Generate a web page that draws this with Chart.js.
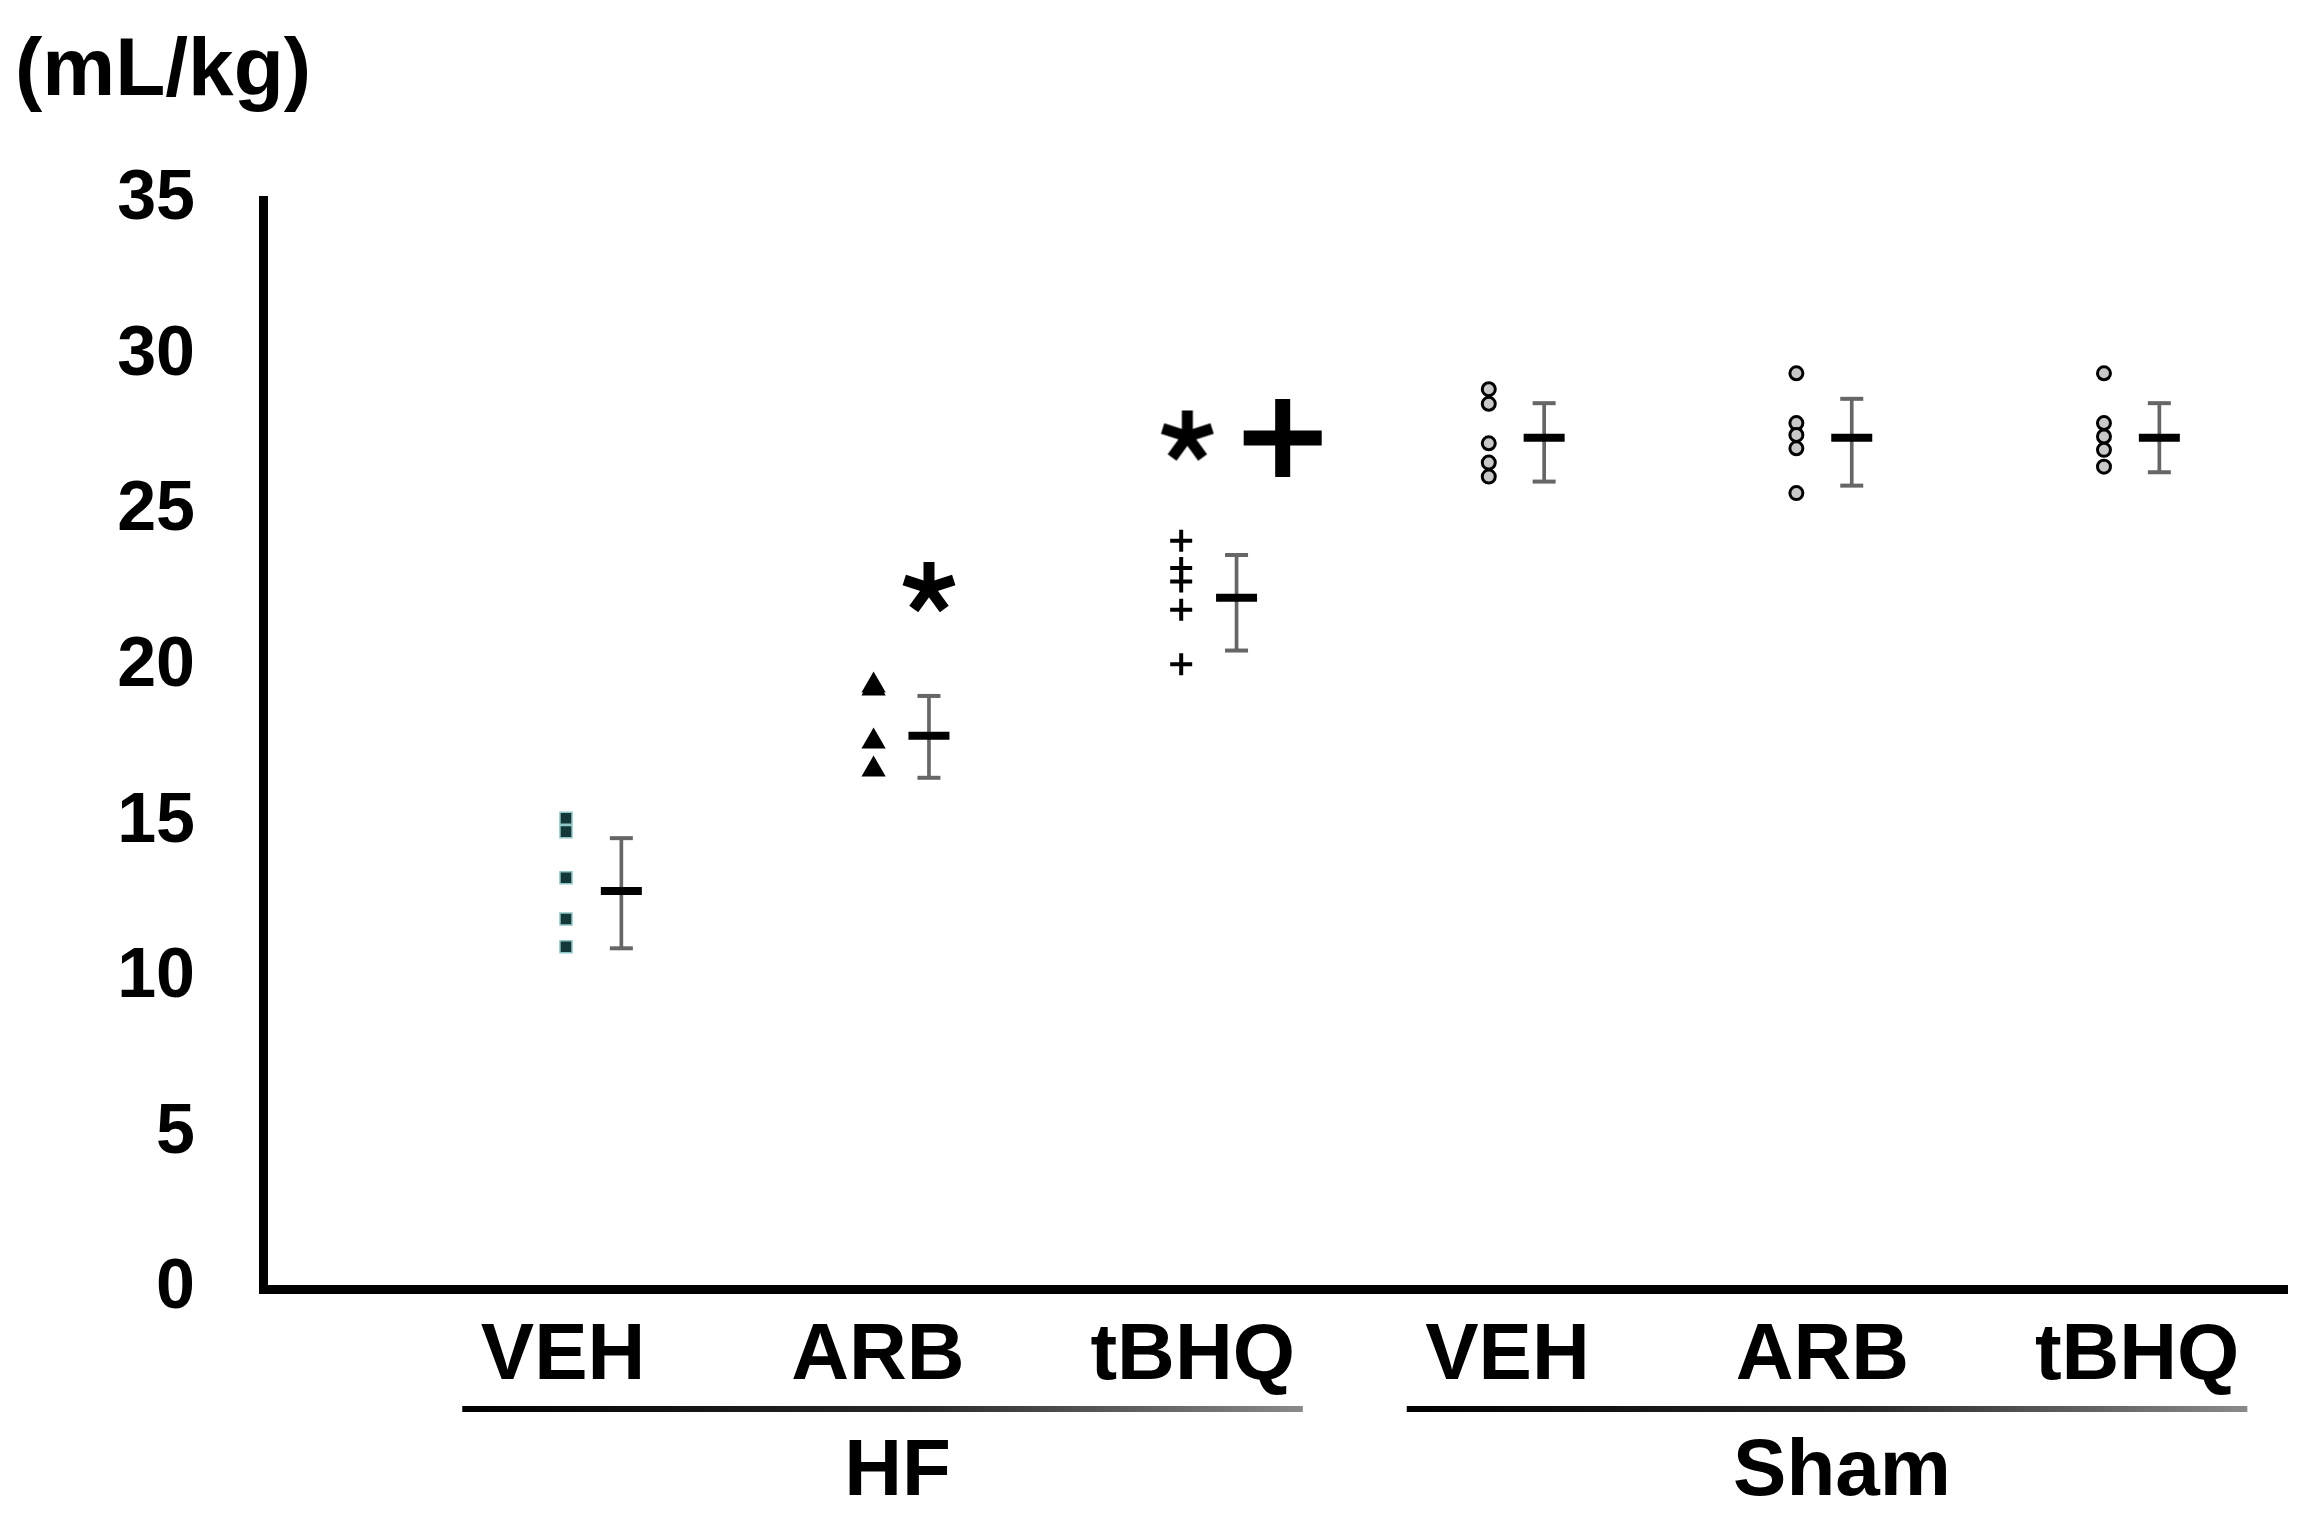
<!DOCTYPE html>
<html>
<head>
<meta charset="utf-8">
<script src="https://cdn.jsdelivr.net/npm/chart.js@4.4.1/dist/chart.umd.min.js"></script>
<style>
  html, body { margin: 0; padding: 0; background: #fff; }
  #c { display: block; }
</style>
</head>
<body>
<canvas id="c" width="2315" height="1520"></canvas>
<script>
// ---------------- DATA ----------------
const categories = ['VEH', 'ARB', 'tBHQ', 'VEH', 'ARB', 'tBHQ'];
const groupNames = ['HF', 'Sham'];
const groupFrom = [0, 3];
const groupTo = [2, 5];
const unitLabel = '(mL/kg)';
const yTicksMax = 35;
const yTickStep = 5;

// individual animals
const hfVeh = [15.13, 14.70, 13.22, 11.89, 11.00];
const hfArb = [19.40, 19.30, 17.60, 16.70];
const hfTbhq = [24.05, 23.17, 22.74, 21.83, 20.08];
const shamVeh = [28.92, 28.45, 27.18, 26.56, 26.11];
const shamArb = [29.43, 27.83, 27.45, 27.02, 25.58];
const shamTbhq = [29.43, 27.83, 27.40, 26.97, 26.43];

// group mean and error-bar limits
const means = [12.79, 17.78, 22.22, 27.36, 27.36, 27.36];
const errHigh = [14.49, 19.06, 23.59, 28.47, 28.61, 28.47];
const errLow = [10.95, 16.43, 20.52, 25.95, 25.82, 26.25];

// significance marks: category index and level
const starCats = [1, 2];
const starValues = [22.53, 27.40];
const plusCats = [2];
const plusValues = [27.35];

// ---------------- STYLE ----------------
const FONT = '"Liberation Sans", Arial, Helvetica, sans-serif';
const MEAN_OFF = 0.18;           // mean/error column offset from the dots column
const STAR_OFF = [0.18, 0.02];   // per star mark
const PLUS_OFF = 0.33;

function asteriskImage() {
  const S = 62, c = S / 2, r = 26;
  const cv = document.createElement('canvas');
  cv.width = S; cv.height = S;
  const g = cv.getContext('2d');
  g.strokeStyle = '#000';
  g.lineWidth = 11;
  g.lineCap = 'butt';
  for (let i = 0; i < 5; i++) {
    const a = -Math.PI / 2 + i * 2 * Math.PI / 5;
    g.beginPath();
    g.moveTo(c, c);
    g.lineTo(c + r * Math.cos(a), c + r * Math.sin(a));
    g.stroke();
  }
  g.beginPath(); g.arc(c, c, 8, 0, Math.PI * 2); g.fillStyle = '#000'; g.fill();
  return cv;
}
const starImg = asteriskImage();

const pts = (arr, k) => arr.map(v => ({ x: k, y: v }));

const datasets = [
  // error-bar stems (floating bars)
  {
    type: 'bar', label: 'sem', xAxisID: 'x', yAxisID: 'y', order: 5,
    data: means.map((m, k) => ({ x: k + MEAN_OFF, y: [errLow[k], errHigh[k]] })),
    backgroundColor: '#666666', borderWidth: 0, barThickness: 3, grouped: false
  },
  // caps
  {
    type: 'scatter', label: 'caps', xAxisID: 'x', order: 4,
    data: means.map((m, k) => ({ x: k + MEAN_OFF, y: errHigh[k] }))
      .concat(means.map((m, k) => ({ x: k + MEAN_OFF, y: errLow[k] }))),
    pointStyle: 'line', radius: 11.5, borderWidth: 4, borderColor: '#666666'
  },
  // means
  {
    type: 'scatter', label: 'mean', xAxisID: 'x', order: 3,
    data: means.map((m, k) => ({ x: k + MEAN_OFF, y: m })),
    pointStyle: 'line', radius: 20.5, borderWidth: 8, borderColor: '#000'
  },
  {
    type: 'scatter', label: 'HF VEH', xAxisID: 'x', order: 1, data: pts(hfVeh, 0),
    pointStyle: 'rect', radius: 8.5, borderWidth: 1.5, backgroundColor: '#143838', borderColor: '#8fc6c6'
  },
  {
    type: 'scatter', label: 'HF ARB', xAxisID: 'x', order: 1, data: pts(hfArb, 1),
    pointStyle: 'triangle', radius: 14, borderWidth: 0, backgroundColor: '#000'
  },
  {
    type: 'scatter', label: 'HF tBHQ', xAxisID: 'x', order: 1, data: pts(hfTbhq, 2),
    pointStyle: 'cross', radius: 11, borderWidth: 4, borderColor: '#000'
  },
  {
    type: 'scatter', label: 'Sham VEH', xAxisID: 'x', order: 1, data: pts(shamVeh, 3),
    pointStyle: 'circle', radius: 6.5, borderWidth: 3, backgroundColor: '#c8c8c8', borderColor: '#000'
  },
  {
    type: 'scatter', label: 'Sham ARB', xAxisID: 'x', order: 1, data: pts(shamArb, 4),
    pointStyle: 'circle', radius: 6.5, borderWidth: 3, backgroundColor: '#c8c8c8', borderColor: '#000'
  },
  {
    type: 'scatter', label: 'Sham tBHQ', xAxisID: 'x', order: 1, data: pts(shamTbhq, 5),
    pointStyle: 'circle', radius: 6.5, borderWidth: 3, backgroundColor: '#c8c8c8', borderColor: '#000'
  },
  {
    type: 'scatter', label: 'star', xAxisID: 'x', order: 0,
    data: starCats.map((k, i) => ({ x: k + STAR_OFF[i], y: starValues[i] })),
    pointStyle: starImg
  },
  {
    type: 'scatter', label: 'plus', xAxisID: 'x', order: 0,
    data: plusCats.map((k, i) => ({ x: k + PLUS_OFF, y: plusValues[i] })),
    pointStyle: 'cross', radius: 39, borderWidth: 15, borderColor: '#000'
  }
];

const groupPlugin = {
  id: 'groupLabels',
  afterDraw(chart) {
    const { ctx, chartArea } = chart;
    const xs = chart.scales.xl;
    ctx.save();
    ctx.fillStyle = '#000';
    ctx.font = 'bold 82px ' + FONT;
    ctx.textAlign = 'left';
    ctx.textBaseline = 'alphabetic';
    ctx.fillText(unitLabel, 15, 95);

    ctx.font = 'bold 80px ' + FONT;
    groupNames.forEach((name, i) => {
      const x1 = xs.getPixelForValue(groupFrom[i] - 0.32);
      const x2 = xs.getPixelForValue(groupTo[i] + 0.35);
      const y = chartArea.bottom + 120;
      const grad = ctx.createLinearGradient(x1, 0, x2, 0);
      grad.addColorStop(0, '#000');
      grad.addColorStop(0.55, '#2a2a2a');
      grad.addColorStop(1, '#8a8a8a');
      ctx.strokeStyle = grad;
      ctx.lineWidth = 6;
      ctx.beginPath();
      ctx.moveTo(x1, y);
      ctx.lineTo(x2, y);
      ctx.stroke();
      ctx.textAlign = 'center';
      ctx.fillText(name, (x1 + x2) / 2 + 15, chartArea.bottom + 206);
    });
    ctx.restore();
  }
};

new Chart(document.getElementById('c'), {
  type: 'scatter',
  data: { datasets },
  plugins: [groupPlugin],
  options: {
    responsive: false,
    devicePixelRatio: 1,
    animation: false,
    events: [],
    layout: { autoPadding: false, padding: { top: 200, left: 15, right: 28, bottom: 0 } },
    plugins: { legend: { display: false }, tooltip: { enabled: false }, title: { display: false } },
    scales: {
      x: {
        type: 'linear', display: false, min: -0.985, max: 5.595,
        offset: false, grid: { offset: false }
      },
      xl: {
        type: 'linear', position: 'bottom', axis: 'x', min: -0.953, max: 5.476,
        offset: false,
        grid: { display: false, drawTicks: false, offset: false },
        border: { display: true, color: '#000', width: 9 },
        afterBuildTicks: (s) => { s.ticks = categories.map((_, i) => ({ value: i })); },
        afterFit: (s) => { s.height = 231; s.paddingLeft = 0; s.paddingRight = 0; },
        ticks: {
          autoSkip: false, maxRotation: 0, padding: 20, color: '#000',
          font: { family: FONT, size: 80, weight: 'bold' },
          callback: (v) => categories[v]
        }
      },
      y: {
        type: 'linear', min: 0, max: yTicksMax,
        grid: { display: false, drawTicks: false },
        border: { display: true, color: '#000', width: 9 },
        afterFit: (s) => { s.width = 248; s.paddingTop = 0; s.paddingBottom = 0; },
        ticks: {
          stepSize: yTickStep, padding: 68, color: '#000',
          font: { family: FONT, size: 70, weight: 'bold' }
        }
      }
    }
  }
});
</script>
</body>
</html>
